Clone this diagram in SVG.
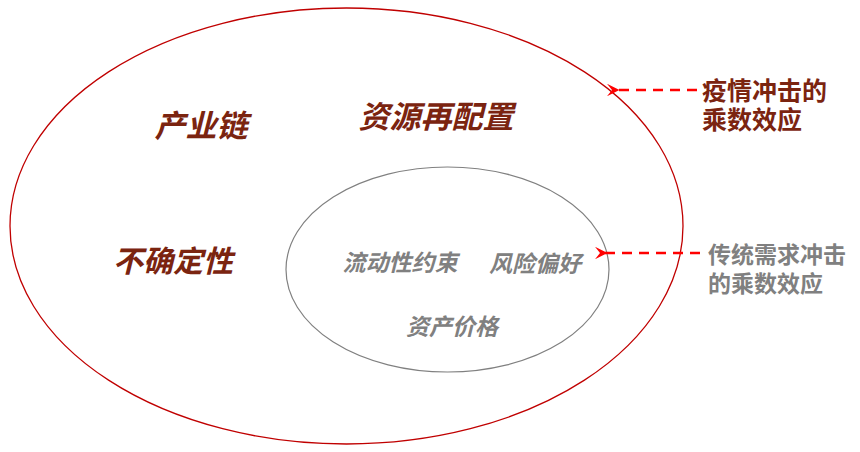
<svg xmlns="http://www.w3.org/2000/svg" width="860" height="452" viewBox="0 0 860 452">
<style>
.cjk{font-family:"Liberation Sans","Noto Sans CJK SC",sans-serif;font-weight:bold}
.dark{fill:#7b2410}
.gray{fill:#808080}
.it{font-style:italic;text-anchor:middle}
.arrow{stroke:#ff0000;stroke-width:2.5;stroke-dasharray:10,7;fill:none}
</style>
<defs>
<marker id="ah" viewBox="0 0 10 10" refX="2" refY="5" markerWidth="5" markerHeight="5" orient="auto-start-reverse" markerUnits="strokeWidth">
<path d="M10,0 L0,5 L10,10 L6,5 Z" fill="#ff0000"/>
</marker>
</defs>
<rect width="860" height="452" fill="#fff"/>
<g id="outer">
<ellipse cx="346.5" cy="226" rx="336.5" ry="218" fill="none" stroke="#c00000" stroke-width="1.3"/>
<text class="cjk dark it" x="201" y="137" font-size="31">产业链</text>
<text class="cjk dark it" x="436" y="128" font-size="31">资源再配置</text>
<text class="cjk dark it" x="173" y="272" font-size="30">不确定性</text>
</g>
<g id="inner">
<ellipse cx="447.5" cy="269.5" rx="161.5" ry="102.5" fill="none" stroke="#808080" stroke-width="1.2"/>
<text class="cjk gray it" x="400" y="271" font-size="23">流动性约束</text>
<text class="cjk gray it" x="535" y="272" font-size="23">风险偏好</text>
<text class="cjk gray it" x="452" y="335" font-size="23">资产价格</text>
</g>
<g id="label1">
<text class="cjk dark" x="702" y="100" font-size="25">疫情冲击的</text>
<text class="cjk dark" x="702" y="129" font-size="25">乘数效应</text>
</g>
<g id="label2">
<text class="cjk gray" x="708" y="263" font-size="23">传统需求冲击</text>
<text class="cjk gray" x="708" y="292" font-size="23">的乘数效应</text>
</g>
<g id="connectors">
<line class="arrow" x1="697" y1="90" x2="617" y2="90" marker-end="url(#ah)"/>
<line class="arrow" x1="700" y1="253" x2="605" y2="253" marker-end="url(#ah)"/>
</g>
</svg>
